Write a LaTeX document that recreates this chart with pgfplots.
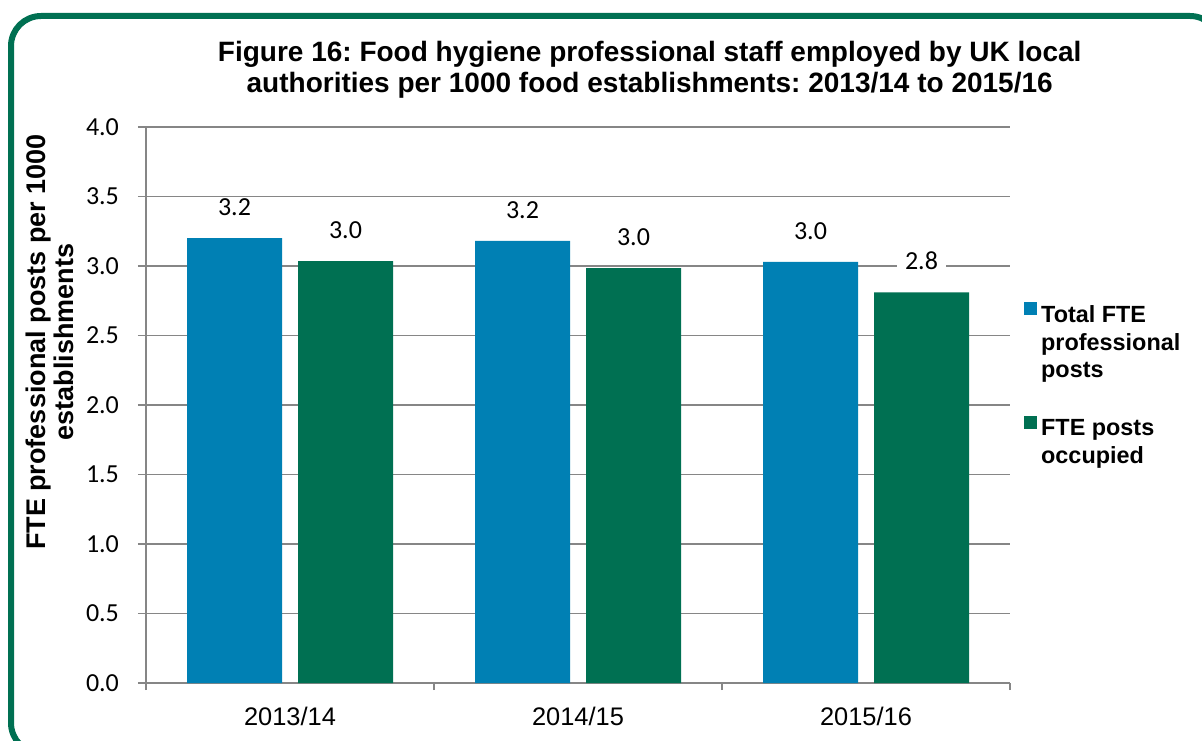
\documentclass[border=0pt]{standalone}
\usepackage{pgfplots}
\pgfplotsset{compat=1.18}
\usepackage{fontspec}
\setmainfont{Liberation Sans}
\newfontfamily\calibri{Carlito}
\definecolor{barblue}{RGB}{0,128,180}
\definecolor{bargreen}{RGB}{0,112,82}
\definecolor{axisgray}{RGB}{134,134,134}
\frenchspacing
\begin{document}
\begin{tikzpicture}
\useasboundingbox (0,0) rectangle (601pt,370pt);
\fill[white] (0,0) rectangle (601pt,370pt);
\draw[line width=3pt, bargreen, rounded corners=15pt] (5.5pt,362pt) rectangle (610pt,-6.5pt);
\begin{axis}[
  at={(73pt,28.5pt)}, anchor=south west,
  scale only axis, width=432pt, height=278pt,
  ybar=8pt, bar width=47.5pt,
  xmin=-0.5, xmax=2.5, ymin=0, ymax=4,
  axis x line*=bottom, axis y line*=left,
  axis line style={draw=axisgray, line width=0.75pt, -},
  xtick={0,1,2}, xticklabels={2013/14,2014/15,2015/16},
  xtick style={draw=none},
  extra x ticks={-0.5,0.5,1.5,2.5}, extra x tick labels={},
  extra x tick style={xtick style={draw=axisgray, line width=0.75pt}, grid=none, major tick length=3.5pt, tick align=outside},
  ytick={0,0.5,...,4},
  yticklabel style={/pgf/number format/fixed, /pgf/number format/fixed zerofill, /pgf/number format/precision=1, font=\calibri\fontsize{13}{15}\selectfont, xshift=-6pt},
  /pgf/number format/assume math mode=true,
  ytick style={draw=axisgray, line width=0.75pt},
  tick align=outside, major tick length=4pt,
  ymajorgrids, grid style={draw=axisgray, line width=0.75pt},
  xticklabel style={font=\fontsize{12.7}{15}\selectfont, yshift=-4.5pt},
  title={Figure 16: Food hygiene professional staff employed by UK local\\authorities per 1000 food establishments: 2013/14 to 2015/16},
  title style={at={(axis description cs:0.583,1.081)}, anchor=center, yshift=0pt, align=center, font=\bfseries\fontsize{14}{15.5}\selectfont},
  ylabel={FTE professional posts per 1000\\establishments},
  ylabel style={at={(axis description cs:-0.111,0.613)}, rotate=0, anchor=center, align=center, font=\bfseries\fontsize{13.5}{14}\selectfont},
  nodes near coords,
  nodes near coords style={/pgf/number format/fixed, /pgf/number format/fixed zerofill, /pgf/number format/precision=1, /pgf/number format/assume math mode=true},
  every node near coord/.append style={font=\calibri\fontsize{13}{15}\selectfont, fill=white, inner xsep=4pt, inner ysep=1pt, anchor=south, yshift=10pt},
  legend image code/.code={\fill[#1] (0pt,-0.5pt) rectangle (6.5pt,6pt);},
  legend style={at={(axis description cs:1.009,0.698)}, anchor=north west, draw=none, fill=none, font=\bfseries\fontsize{11.7}{13.75}\selectfont, row sep=41.5pt},
  legend cell align=left,
]
\addplot[fill=barblue, draw=none] coordinates {(0,3.20) (1,3.18) (2,3.03)};
\addplot[fill=bargreen, draw=none] coordinates {(0,3.035) (1,2.985) (2,2.81)};
\legend{{\begin{tabular}[t]{@{}l@{}}Total FTE\\professional\\posts\end{tabular}}, {\begin{tabular}[t]{@{}l@{}}FTE posts\\occupied\end{tabular}}}
\end{axis}
\end{tikzpicture}
\end{document}
